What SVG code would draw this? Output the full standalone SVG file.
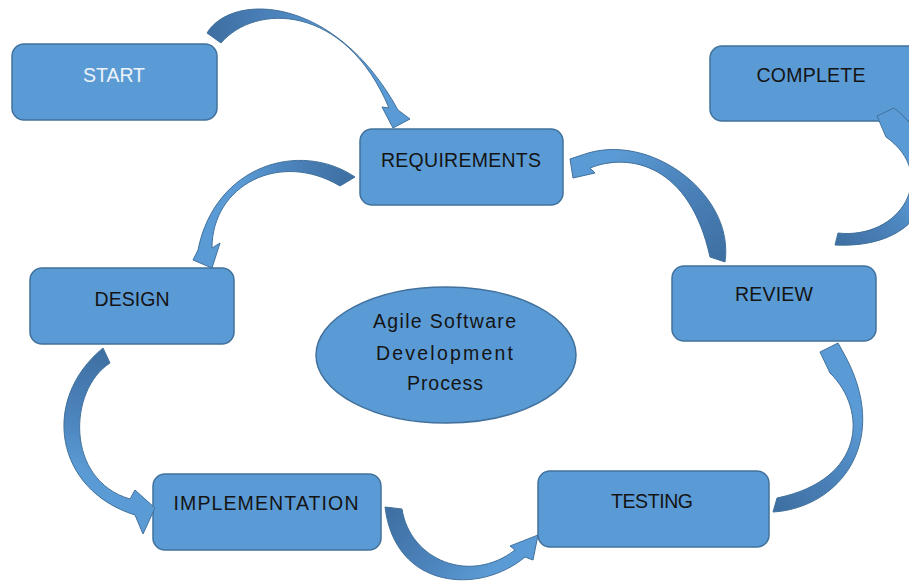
<svg xmlns="http://www.w3.org/2000/svg" width="909" height="585" viewBox="0 0 909 585">
<style>
.box{fill:#5B9BD5;stroke:#41719C;stroke-width:1.5}
.lbl{font-family:"Liberation Sans",Arial,sans-serif;font-size:19.5px;fill:#141414;text-anchor:middle}
.arr{stroke:#41719C;stroke-width:1;stroke-linejoin:round}
</style>
<defs>
<linearGradient id="g1" gradientUnits="userSpaceOnUse" x1="214" y1="38" x2="330" y2="30"><stop offset="0" stop-color="#3F70A3"/><stop offset="0.6" stop-color="#4D85BE"/><stop offset="1" stop-color="#5B9BD5"/></linearGradient>
<linearGradient id="g2" gradientUnits="userSpaceOnUse" x1="347" y1="181" x2="240" y2="185"><stop offset="0" stop-color="#3F70A3"/><stop offset="0.6" stop-color="#4D85BE"/><stop offset="1" stop-color="#5B9BD5"/></linearGradient>
<linearGradient id="g3" gradientUnits="userSpaceOnUse" x1="717" y1="260" x2="620" y2="150"><stop offset="0" stop-color="#3F70A3"/><stop offset="0.6" stop-color="#4D85BE"/><stop offset="1" stop-color="#5B9BD5"/></linearGradient>
<linearGradient id="g4" gradientUnits="userSpaceOnUse" x1="836" y1="239" x2="905" y2="180"><stop offset="0" stop-color="#3F70A3"/><stop offset="0.6" stop-color="#4D85BE"/><stop offset="1" stop-color="#5B9BD5"/></linearGradient>
<linearGradient id="g5" gradientUnits="userSpaceOnUse" x1="106" y1="355" x2="75" y2="470"><stop offset="0" stop-color="#3F70A3"/><stop offset="0.6" stop-color="#4D85BE"/><stop offset="1" stop-color="#5B9BD5"/></linearGradient>
<linearGradient id="g6" gradientUnits="userSpaceOnUse" x1="393" y1="508" x2="480" y2="582"><stop offset="0" stop-color="#3F70A3"/><stop offset="0.6" stop-color="#4D85BE"/><stop offset="1" stop-color="#5B9BD5"/></linearGradient>
<linearGradient id="g7" gradientUnits="userSpaceOnUse" x1="775" y1="505" x2="858" y2="420"><stop offset="0" stop-color="#3F70A3"/><stop offset="0.6" stop-color="#4D85BE"/><stop offset="1" stop-color="#5B9BD5"/></linearGradient>
</defs>
<rect width="909" height="585" fill="#FFFFFF"/>

<g id="start"><rect class="box" x="12" y="44" width="205" height="76" rx="12"/><text class="lbl" x="114" y="82" textLength="62" style="fill:#EEF3F9">START</text></g>
<g id="complete"><rect class="box" x="710" y="46" width="210" height="75" rx="12"/><text class="lbl" x="811" y="82" textLength="109">COMPLETE</text></g>
<g id="requirements"><rect class="box" x="360" y="129" width="203" height="76" rx="12"/><text class="lbl" x="461" y="167" textLength="160">REQUIREMENTS</text></g>
<g id="design"><rect class="box" x="30" y="268" width="204" height="76" rx="12"/><text class="lbl" x="132" y="306" textLength="75">DESIGN</text></g>
<g id="review"><rect class="box" x="672" y="266" width="204" height="75" rx="12"/><text class="lbl" x="774" y="301" textLength="78">REVIEW</text></g>
<g id="implementation"><rect class="box" x="153" y="474" width="228" height="76" rx="12"/><text class="lbl" x="266" y="510" textLength="185">IMPLEMENTATION</text></g>
<g id="testing"><rect class="box" x="538" y="471" width="231" height="76" rx="12"/><text class="lbl" x="652" y="508" textLength="82">TESTING</text></g>
<g id="center"><ellipse class="box" cx="446" cy="355" rx="130" ry="68"/>
<text class="lbl" x="444.5" y="328" textLength="143">Agile Software</text>
<text class="lbl" x="444.5" y="360" textLength="137">Development</text>
<text class="lbl" x="445" y="390" textLength="76">Process</text></g>

<g id="connectors">
<path class="arr" fill="url(#g1)" d="M207,33 C232,-8 335,-5 398,110 L410,119 L393,128 L382,107 L389,108 C345,3 255,3 221,43 Z"/>
<path class="arr" fill="url(#g2)" d="M355,177 C300,140 215,165 198,250 L193,260 L212,268 L220,243 L212,248 C212,185 280,150 340,186 Z"/>
<path class="arr" fill="url(#g3)" d="M725,262 C735,195 650,130 582,155 L570,159 L573,178 L595,173 L590,168 C630,152 690,165 710,257 Z"/>
<path class="arr" fill="url(#g4)" d="M838,233 C900,240 940,175 886,137 L877,116 L894,108 C950,150 945,250 835,245 Z"/>
<path class="arr" fill="url(#g5)" d="M110,363 C68,390 65,480 130,499 L135,490 L155,508 L143,534 L135,515 C55,490 40,400 103,348 Z"/>
<path class="arr" fill="url(#g6)" d="M402,509 C410,560 470,585 515,550 L510,546 L538,535 L533,560 L525,557 C480,595 395,590 385,507 Z"/>
<path class="arr" fill="url(#g7)" d="M773,512 C840,508 893,440 843,352 L838,343 L820,352 L830,373 C868,410 865,480 777,498 Z"/>
</g>
</svg>
